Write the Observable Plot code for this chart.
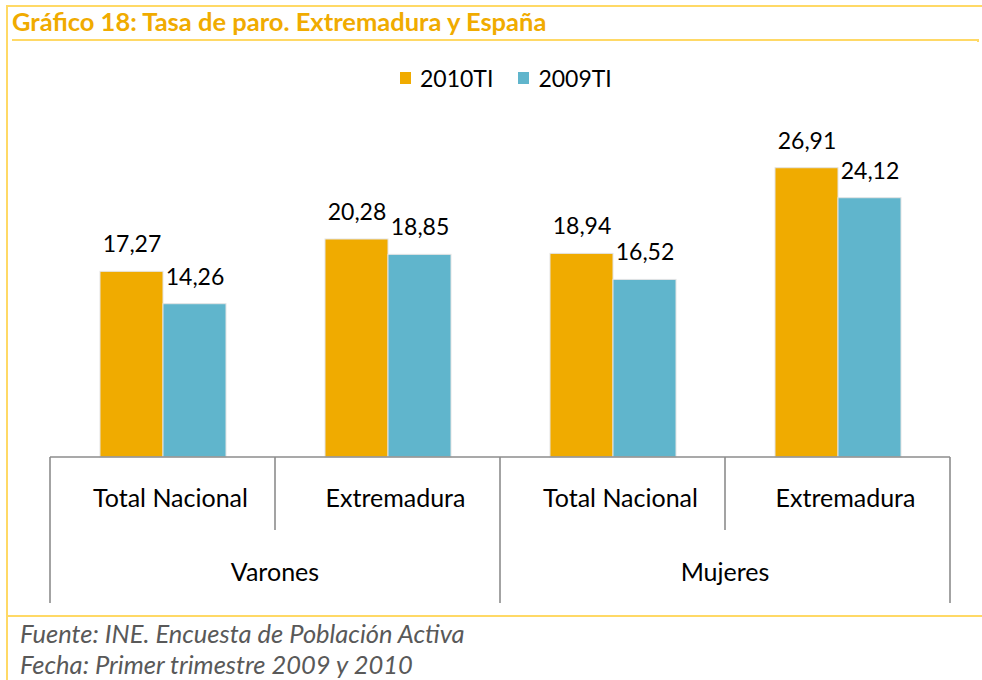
<!DOCTYPE html>
<html>
<head>
<meta charset="utf-8">
<script src="https://cdn.jsdelivr.net/npm/d3@7"></script>
<script src="https://cdn.jsdelivr.net/npm/@observablehq/plot@0.6"></script>
<style>
  html, body { margin: 0; padding: 0; background: #fff; }
  #root { position: relative; width: 982px; height: 680px; overflow: hidden; font-family: Lato, "Open Sans", sans-serif; }
  #root svg { position: absolute; left: 0; top: 0; }
  .line { position: absolute; background: #FFD966; }
  #title { position: absolute; left: 12px; top: 9px; line-height: 1; font-weight: bold; font-size: 25.5px; color: #F0AB00; white-space: nowrap; }
  #legend { position: absolute; left: 400px; top: 64px; display: flex; align-items: center; font-size: 23px; color: #000; }
  #legend .sw { width: 11px; height: 12px; margin-right: 9px; }
  #legend .item { display: flex; align-items: center; margin-right: 25px; }
  .foot { position: absolute; left: 20px; line-height: 1; font-style: italic; font-size: 25.5px; color: #595959; white-space: nowrap; }
</style>
</head>
<body>
<div id="root">
  <div class="line" style="left:6px;top:5px;width:976px;height:2px"></div>
  <div class="line" style="left:6px;top:5px;width:2px;height:675px"></div>
  <div class="line" style="left:12px;top:39px;width:967px;height:1.5px"></div>
  <div class="line" style="left:977px;top:39px;width:2px;height:3px"></div>
  <div class="line" style="left:8px;top:615px;width:974px;height:2px"></div>
  <div id="title"></div>
  <div id="legend"></div>
  <div class="foot" id="f1" style="top:621px"></div>
  <div class="foot" id="f2" style="top:652px"></div>
</div>
<script>
const titleText = "Gráfico 18: Tasa de paro. Extremadura y España";
const footer1 = "Fuente: INE. Encuesta de Población Activa";
const footer2 = "Fecha: Primer trimestre 2009 y 2010";
const groups = ["Varones", "Mujeres"];
const regions = ["Total Nacional", "Extremadura"];
const series = ["2010TI", "2009TI"];
const colors = ["#F0AB00", "#60B5CC"];
const values2010 = [17.27, 20.28, 18.94, 26.91];
const values2009 = [14.26, 18.85, 16.52, 24.12];

document.getElementById("title").textContent = titleText;
document.getElementById("f1").textContent = footer1;
document.getElementById("f2").textContent = footer2;

const legend = document.getElementById("legend");
series.forEach((s, i) => {
  const item = document.createElement("div");
  item.className = "item";
  const sw = document.createElement("div");
  sw.className = "sw";
  sw.style.background = colors[i];
  const t = document.createElement("span");
  t.textContent = s;
  item.appendChild(sw); item.appendChild(t);
  legend.appendChild(item);
});

const cats = [];
groups.forEach(g => regions.forEach(r => cats.push({group: g, region: r, key: g + "|" + r})));
const data = [];
cats.forEach((c, i) => {
  data.push({key: c.key, series: series[0], value: values2010[i]});
  data.push({key: c.key, series: series[1], value: values2009[i]});
});

const fmt = v => v.toFixed(2).replace(".", ",");

const plot = Plot.plot({
  width: 982,
  height: 680,
  marginLeft: 50,
  marginRight: 32,
  marginTop: 134.5,
  marginBottom: 223,
  style: {fontFamily: "Lato, 'Open Sans', sans-serif", background: "transparent", overflow: "visible"},
  fx: {domain: cats.map(c => c.key), padding: 0, axis: null},
  x: {domain: series, paddingInner: 0, paddingOuter: 0.758, axis: null},
  y: {domain: [0, 30], axis: null},
  color: {domain: series, range: colors},
  marks: [
    Plot.barY(data, {fx: "key", x: "series", y: "value", fill: "series", stroke: "#e4e4e4", strokeWidth: 1}),
    Plot.text(data, {fx: "key", x: "series", y: "value", text: d => fmt(d.value), dy: -27, fontSize: 23, fill: "#000"})
  ]
});

const root = document.getElementById("root");
root.appendChild(plot);

// category axis drawn from the plot's own scales
const fxs = Plot.scale({fx: plot.scale("fx")});
const ys = Plot.scale({y: plot.scale("y")});
const bw = fxs.bandwidth;
const y0 = ys.apply(0);
const svg = d3.select(plot);
const ax = svg.append("g").attr("stroke", "#8c8c8c").attr("stroke-width", 1.6);
const left = fxs.apply(cats[0].key);
const right = fxs.apply(cats[cats.length - 1].key) + bw;
ax.append("line").attr("x1", left).attr("x2", right).attr("y1", y0).attr("y2", y0);
const innerLen = 73, outerLen = 146;
cats.forEach((c, i) => {
  const x0 = fxs.apply(c.key);
  const isGroupStart = i % regions.length === 0;
  ax.append("line").attr("x1", x0).attr("x2", x0).attr("y1", y0).attr("y2", y0 + (isGroupStart ? outerLen : innerLen));
});
ax.append("line").attr("x1", right).attr("x2", right).attr("y1", y0).attr("y2", y0 + outerLen);

const tg = svg.append("g").attr("font-family", "Lato, 'Open Sans', sans-serif").attr("font-size", 25).attr("fill", "#000").attr("text-anchor", "middle");
cats.forEach(c => {
  tg.append("text").attr("x", fxs.apply(c.key) + bw / 2).attr("dx", 8).attr("y", y0 + 41).attr("dy", "0.35em").text(c.region);
});
groups.forEach(g => {
  const ks = cats.filter(c => c.group === g).map(c => c.key);
  const a = fxs.apply(ks[0]);
  const b = fxs.apply(ks[ks.length - 1]) + bw;
  tg.append("text").attr("x", (a + b) / 2).attr("y", y0 + 115).attr("dy", "0.35em").text(g);
});
</script>
</body>
</html>
